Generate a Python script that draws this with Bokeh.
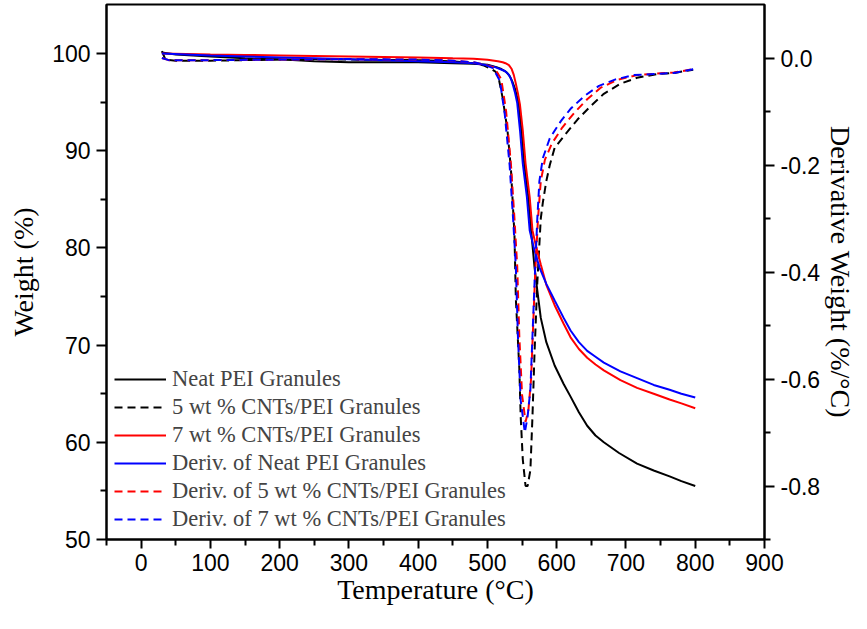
from bokeh.plotting import figure
from bokeh.models import Range1d, LinearAxis, FixedTicker, PrintfTickFormatter, Legend, LegendItem
from bokeh.embed import file_html
from bokeh.resources import INLINE

# ---------------- data ----------------
# Weight curves (left axis)
t_neat = [30, 50, 100, 150, 200, 250, 300, 350, 400, 450, 480, 500, 513, 520, 527, 532, 536, 540, 545, 549,
          553, 559, 563, 568, 572, 577, 585, 597, 610, 620, 632, 644, 656, 668, 690, 716, 740, 763, 780, 800]
w_neat = [100.1, 99.9, 99.7, 99.5, 99.4, 99.2, 99.1, 99.1, 99.1, 99.0, 98.95, 98.85, 98.6, 98.4, 98.1, 97.7, 97.1, 96.3, 94.9, 92.1,
          88.7, 85.2, 81.8, 78.0, 75.6, 72.8, 70.3, 67.9, 66.0, 64.7, 63.1, 61.7, 60.7, 60.0, 58.9, 57.8, 57.1, 56.5, 56.0, 55.5]

t_cnt7 = [30, 100, 150, 200, 250, 300, 350, 400, 450, 480, 500, 515, 522, 526, 531, 535, 538, 541, 544, 547, 551, 555,
          561, 565, 570, 577, 585, 597, 610, 620, 632, 644, 656, 668, 692, 716, 740, 763, 780, 800]
w_cnt7 = [100.0, 99.9, 99.85, 99.8, 99.75, 99.7, 99.65, 99.6, 99.5, 99.45, 99.35, 99.2, 99.1, 99.0, 98.8, 98.4, 97.8, 96.9, 95.9, 94.7, 92.1, 88.7,
          85.2, 81.8, 80.2, 78.3, 76.2, 74.1, 72.2, 70.8, 69.6, 68.7, 68.0, 67.4, 66.4, 65.6, 65.0, 64.4, 64.0, 63.5]

t_blue = [30, 100, 150, 200, 250, 300, 350, 400, 450, 480, 500, 511, 518, 525, 530, 534, 537, 540, 543, 547, 551,
          557, 561, 567, 575, 585, 597, 610, 620, 632, 644, 656, 668, 692, 716, 740, 763, 780, 800]
w_blue = [100.0, 99.8, 99.7, 99.6, 99.5, 99.4, 99.3, 99.2, 99.1, 99.0, 98.8, 98.6, 98.4, 98.2, 97.9, 97.4, 96.7, 95.9, 94.9, 92.1, 88.7,
          85.2, 81.8, 80.0, 78.0, 76.3, 74.6, 72.8, 71.5, 70.3, 69.4, 68.8, 68.2, 67.3, 66.6, 65.9, 65.4, 65.0, 64.6]

# Derivative curves (right axis)
t_dneat = [30, 35, 50, 100, 150, 200, 250, 300, 400, 450, 480, 495, 505, 511, 515, 522, 529, 534, 539, 541, 546, 548, 551,
           555, 558, 562, 565, 568, 572, 577, 580, 585, 590, 597, 611, 630, 649, 668, 692, 716, 745, 769, 797]
d_dneat = [0.013, -0.003, -0.005, -0.005, -0.004, -0.003, -0.002, -0.003, -0.004, -0.006, -0.01, -0.014, -0.02, -0.025, -0.03, -0.075, -0.136, -0.21, -0.33, -0.45, -0.58, -0.67, -0.75,
           -0.80, -0.80, -0.77, -0.67, -0.55, -0.42, -0.30, -0.27, -0.23, -0.20, -0.168, -0.145, -0.115, -0.09, -0.067, -0.048, -0.037, -0.03, -0.028, -0.022]

t_d5 = [30, 40, 60, 100, 200, 300, 400, 450, 480, 495, 510, 520, 527, 534, 539, 543, 546, 550,
        555, 559, 563, 566, 569, 573, 577, 583, 593, 608, 625, 644, 663, 687, 716, 745, 769, 797]
d_d5 = [0.0, -0.004, -0.004, -0.004, -0.003, -0.002, -0.003, -0.005, -0.008, -0.012, -0.018, -0.04, -0.10, -0.20, -0.30, -0.39, -0.52, -0.63,
        -0.68, -0.66, -0.60, -0.50, -0.40, -0.30, -0.23, -0.19, -0.16, -0.13, -0.103, -0.077, -0.056, -0.041, -0.032, -0.029, -0.027, -0.021]

t_d7 = [30, 40, 60, 100, 200, 300, 400, 450, 480, 495, 508, 518, 525, 532, 537, 541, 544, 548,
        554, 558, 562, 565, 568, 572, 575, 580, 590, 606, 620, 640, 661, 685, 711, 740, 769, 797]
d_d7 = [0.0, -0.004, -0.004, -0.004, -0.003, -0.002, -0.003, -0.005, -0.008, -0.012, -0.019, -0.043, -0.105, -0.20, -0.30, -0.39, -0.52, -0.64,
        -0.70, -0.67, -0.62, -0.52, -0.42, -0.30, -0.23, -0.187, -0.15, -0.118, -0.095, -0.071, -0.052, -0.04, -0.032, -0.03, -0.028, -0.021]

labels = ["Neat PEI Granules", "5 wt % CNTs/PEI Granules", "7 wt % CNTs/PEI Granules",
          "Deriv. of Neat PEI Granules", "Deriv. of 5 wt % CNTs/PEI Granules", "Deriv. of 7 wt % CNTs/PEI Granules"]

x_ticks = [0, 100, 200, 300, 400, 500, 600, 700, 800, 900]
x_minor = [-50, 50, 150, 250, 350, 450, 550, 650, 750, 850]
yl_ticks = [50, 60, 70, 80, 90, 100]
yl_minor = [55, 65, 75, 85, 95]
yr_ticks = [-0.8, -0.6, -0.4, -0.2, 0.0]
yr_minor = [-0.9, -0.7, -0.5, -0.3, -0.1]

# ---------------- figure ----------------
p = figure(width=859, height=613, output_backend="svg", toolbar_location=None,
           x_range=Range1d(-50, 900), y_range=Range1d(50, 105.04),
           min_border_left=106, min_border_right=90, min_border_top=4, min_border_bottom=74)
p.extra_y_ranges = {"deriv": Range1d(-0.9, 0.1)}
p.xgrid.visible = False
p.ygrid.visible = False
p.outline_line_color = "black"
p.outline_line_width = 2
p.background_fill_color = "white"
p.border_fill_color = "white"

DASH = "8 5"
lw = 2
r1 = p.line(t_neat, w_neat, line_color="black", line_width=lw)
r2 = p.line(t_dneat, d_dneat, line_color="black", line_width=lw, line_dash=DASH, y_range_name="deriv")
r3 = p.line(t_cnt7, w_cnt7, line_color="#ff0000", line_width=lw)
r4 = p.line(t_blue, w_blue, line_color="#0000ff", line_width=lw)
r5 = p.line(t_d5, d_d5, line_color="#ff0000", line_width=lw, line_dash=DASH, y_range_name="deriv")
r6 = p.line(t_d7, d_d7, line_color="#0000ff", line_width=lw, line_dash=DASH, y_range_name="deriv")

right_axis = LinearAxis(y_range_name="deriv", axis_label="Derivative Weight (%/°C)")
p.add_layout(right_axis, "right")

def style_axis(ax, ticks, minor):
    ax.ticker = FixedTicker(ticks=ticks, minor_ticks=minor)
    ax.axis_line_width = 2
    ax.axis_line_color = "black"
    ax.major_tick_line_width = 2
    ax.minor_tick_line_width = 2
    ax.major_tick_out = 10
    ax.major_tick_in = 0
    ax.minor_tick_out = 6
    ax.minor_tick_in = 0
    ax.major_label_text_font = "Liberation Sans"
    ax.major_label_text_font_size = "23px"
    ax.major_label_text_color = "black"
    ax.major_label_standoff = 6
    ax.axis_label_text_font = "Liberation Serif"
    ax.axis_label_text_font_size = "28px"
    ax.axis_label_text_font_style = "normal"
    ax.axis_label_text_color = "black"

p.xaxis.axis_label = "Temperature (°C)"
p.yaxis[0].axis_label = "Weight (%)"
style_axis(p.xaxis[0], x_ticks, x_minor)
style_axis(p.yaxis[0], yl_ticks, yl_minor)
style_axis(right_axis, yr_ticks, yr_minor)
right_axis.formatter = PrintfTickFormatter(format="%.1f")
p.xaxis[0].major_tick_out = 9
p.xaxis[0].major_label_standoff = 5
p.xaxis[0].axis_label_standoff = 0
p.yaxis[0].axis_label_standoff = 10
right_axis.axis_label_standoff = 2

legend = Legend(items=[LegendItem(label=l, renderers=[r]) for l, r in zip(labels, [r1, r2, r3, r4, r5, r6])],
                location=(8, 6), padding=0, spacing=0, margin=0,
                glyph_width=52, glyph_height=28, label_height=28, label_standoff=6,
                label_text_font="Liberation Serif", label_text_font_size="22.5px",
                background_fill_alpha=0, border_line_alpha=0)
p.add_layout(legend, "center")

open("out.html", "w").write(file_html(p, INLINE))
